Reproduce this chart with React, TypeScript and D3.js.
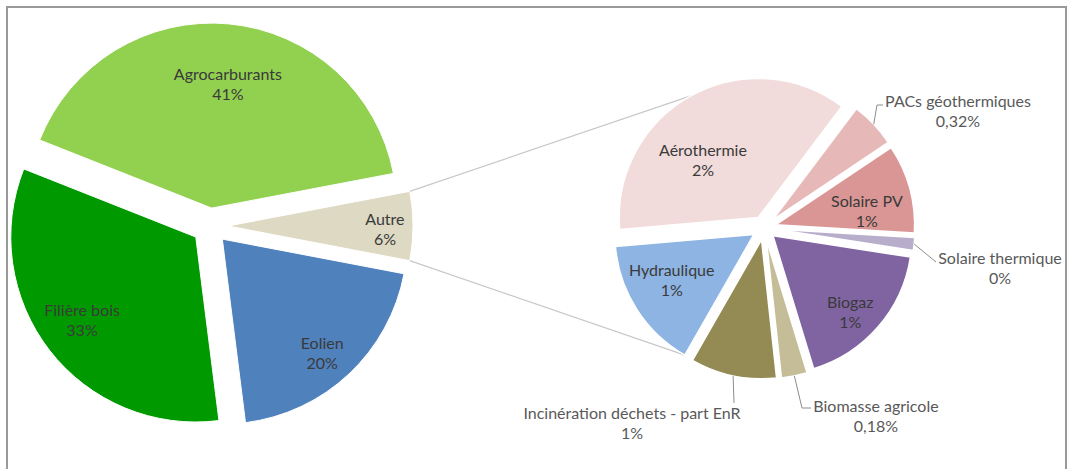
import React from 'react';
import * as d3 from 'd3';

// ---------- data ----------
const mainCategories = ['Autre', 'Eolien', 'Filière bois', 'Agrocarburants'];
const mainValues = [6, 20, 33, 41];
const mainLabels = ['6%', '20%', '33%', '41%'];

const subCategories = [
  'Aérothermie',
  'PACs géothermiques',
  'Solaire PV',
  'Solaire thermique',
  'Biogaz',
  'Biomasse agricole',
  'Incinération déchets - part EnR',
  'Hydraulique',
];
const subValues = [2.2, 0.32, 0.62, 0.09, 1.07, 0.18, 0.6, 0.92];
const subLabels = ['2%', '0,32%', '1%', '0%', '1%', '0,18%', '1%', '1%'];

// ---------- styles / layout ----------
const mainColors: Record<string, string> = {
  Autre: '#DDD9C3',
  Eolien: '#4F81BD',
  'Filière bois': '#009A00',
  Agrocarburants: '#92D050',
};
const subColors: Record<string, string> = {
  'Aérothermie': '#F2DCDB',
  'PACs géothermiques': '#E6B9B8',
  'Solaire PV': '#D99694',
  'Solaire thermique': '#B8AECB',
  Biogaz: '#8064A2',
  'Biomasse agricole': '#C4BD97',
  'Incinération déchets - part EnR': '#948A54',
  Hydraulique: '#8DB4E2',
};

const W = 1067;
const H = 469;
const FONT = 'Lato, "Open Sans", sans-serif';
const FONT_SIZE = 16;
const LINE = 20;

const LEFT = { cx: 210, cy: 226, r: 185, explode: 18 };
const RIGHT = { cx: 764, cy: 228, r: 139, explode: 12 };
const RIGHT_START_SCREEN_DEG = 175; // Aérothermie starts just below 9 o'clock
const CONNECTOR_TOP_SCREEN_DEG = 241;

// inside label placement: [screen angle deg, distance from pie centre]
const insideLabelPolar: Record<string, [number, number]> = {
  Agrocarburants: [277.3, 141],
  'Filière bois': [143.1, 160],
  Eolien: [49, 171],
  Autre: [1.6, 175],
  'Aérothermie': [227.3, 90],
  'Solaire PV': [351.7, 104],
  Hydraulique: [149.6, 107],
  Biogaz: [45, 122],
};

// outside labels: text centre (first line) and leader bend points
const outsideLabels: Record<string, { x: number; y: number; leader: [number, number][] }> = {
  'PACs géothermiques': { x: 958, y: 103, leader: [[877, 105], [883, 105]] },
  'Solaire thermique': { x: 1000, y: 260, leader: [[936, 262]] },
  'Biomasse agricole': { x: 876, y: 408, leader: [[802, 408], [811, 408]] },
  'Incinération déchets - part EnR': { x: 632, y: 415, leader: [[734, 403]] },
};

const deg = Math.PI / 180;
const dirD3 = (a: number): [number, number] => [Math.sin(a), -Math.cos(a)];

type Pie = { cx: number; cy: number; r: number; explode: number };

function apex(p: Pie, a: d3.PieArcDatum<number>): [number, number] {
  const mid = (a.startAngle + a.endAngle) / 2;
  const [ux, uy] = dirD3(mid);
  return [p.cx + ux * p.explode, p.cy + uy * p.explode];
}
function rim(p: Pie, a: d3.PieArcDatum<number>, angle: number): [number, number] {
  const [ax, ay] = apex(p, a);
  const [ux, uy] = dirD3(angle);
  return [ax + ux * p.r, ay + uy * p.r];
}

export default function App() {
  const autreShare = mainValues[0] / d3.sum(mainValues);
  const leftStart = Math.PI / 2 - autreShare * Math.PI;
  const leftArcs = d3
    .pie<number>()
    .sort(null)
    .value((d) => d)
    .startAngle(leftStart)
    .endAngle(leftStart + 2 * Math.PI)(mainValues);

  const rightStart = (RIGHT_START_SCREEN_DEG + 90) * deg;
  const rightArcs = d3
    .pie<number>()
    .sort(null)
    .value((d) => d)
    .startAngle(rightStart)
    .endAngle(rightStart + 2 * Math.PI)(subValues);

  const leftArc = d3.arc<d3.PieArcDatum<number>>().innerRadius(0).outerRadius(LEFT.r);
  const rightArc = d3.arc<d3.PieArcDatum<number>>().innerRadius(0).outerRadius(RIGHT.r);

  const autre = leftArcs[0];
  const topFrom = rim(LEFT, autre, autre.startAngle);
  const botFrom = rim(LEFT, autre, autre.endAngle);
  const aero = rightArcs[0];
  const hydr = rightArcs[rightArcs.length - 1];
  const topTo = rim(RIGHT, aero, (CONNECTOR_TOP_SCREEN_DEG + 90) * deg);
  const botTo = rim(RIGHT, hydr, hydr.startAngle);

  const line = d3.line();

  const labelAt = (p: Pie, name: string): [number, number] => {
    const [a, d] = insideLabelPolar[name];
    return [p.cx + Math.cos(a * deg) * d, p.cy + Math.sin(a * deg) * d];
  };

  const textProps = {
    fontFamily: FONT,
    fontSize: FONT_SIZE,
    textAnchor: 'middle' as const,
    dominantBaseline: 'middle' as const,
  };

  return (
    <svg
      width={W}
      height={H}
      style={{ position: 'absolute', left: 0, top: 0, background: '#fff' }}
    >
      <rect x={7} y={7} width={1059} height={490} fill="#fff" stroke="#9a9a9a" strokeWidth={2} />

      {/* connector lines */}
      <path d={line([topFrom, topTo]) || ''} stroke="#c8c8c8" strokeWidth={1.2} fill="none" />
      <path d={line([botFrom, botTo]) || ''} stroke="#c8c8c8" strokeWidth={1.2} fill="none" />

      {/* left pie */}
      {leftArcs.map((a, i) => {
        const [ax, ay] = apex(LEFT, a);
        return (
          <path
            key={mainCategories[i]}
            d={leftArc(a) || ''}
            transform={`translate(${ax},${ay})`}
            fill={mainColors[mainCategories[i]]}
            stroke="#ffffff"
            strokeWidth={1}
          />
        );
      })}

      {/* right pie */}
      {rightArcs.map((a, i) => {
        const [ax, ay] = apex(RIGHT, a);
        return (
          <path
            key={subCategories[i]}
            d={rightArc(a) || ''}
            transform={`translate(${ax},${ay})`}
            fill={subColors[subCategories[i]]}
            stroke="#ffffff"
            strokeWidth={1.5}
          />
        );
      })}

      {/* left labels */}
      {leftArcs.map((a, i) => {
        const name = mainCategories[i];
        const [x, y] = labelAt(LEFT, name);
        return (
          <g key={'ll' + name} fill="#3a3a3a">
            <text x={x} y={y - LINE / 2} {...textProps}>{name}</text>
            <text x={x} y={y + LINE / 2} {...textProps}>{mainLabels[i]}</text>
          </g>
        );
      })}

      {/* right labels */}
      {rightArcs.map((a, i) => {
        const name = subCategories[i];
        if (insideLabelPolar[name]) {
          const [x, y] = labelAt(RIGHT, name);
          return (
            <g key={'rl' + name} fill="#3a3a3a">
              <text x={x} y={y - LINE / 2} {...textProps}>{name}</text>
              <text x={x} y={y + LINE / 2} {...textProps}>{subLabels[i]}</text>
            </g>
          );
        }
        const o = outsideLabels[name];
        const start = rim(RIGHT, a, (a.startAngle + a.endAngle) / 2);
        const pts: [number, number][] = [start, ...o.leader];
        return (
          <g key={'rl' + name}>
            <path d={line(pts) || ''} stroke="#8c8c8c" strokeWidth={1} fill="none" />
            <g fill="#595959">
              <text x={o.x} y={o.y} {...textProps}>{name}</text>
              <text x={o.x} y={o.y + LINE} {...textProps}>{subLabels[i]}</text>
            </g>
          </g>
        );
      })}
    </svg>
  );
}
